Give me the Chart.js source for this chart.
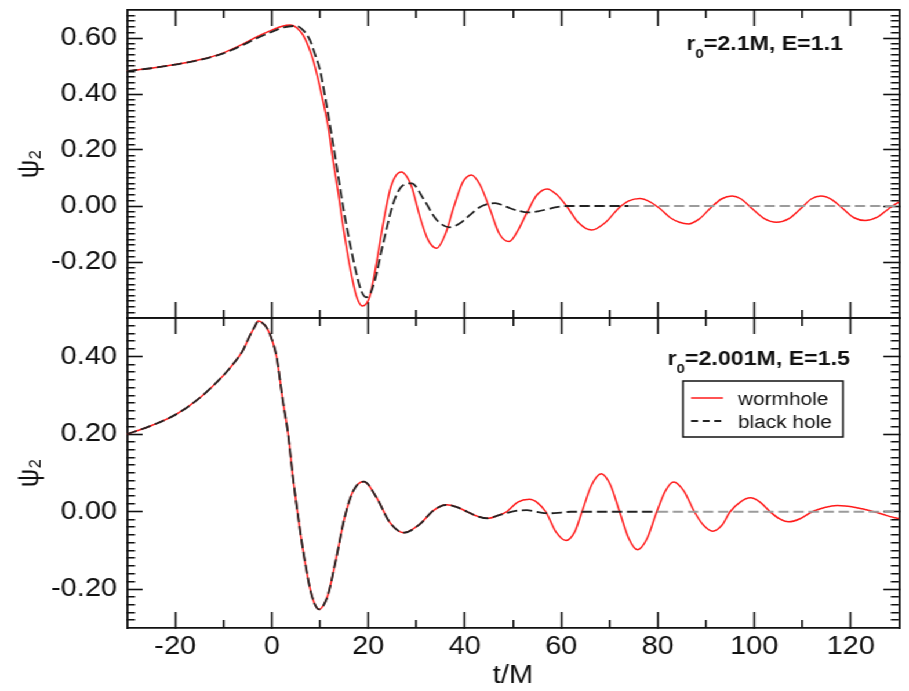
<!DOCTYPE html>
<html lang="en">
<head>
    <meta charset="UTF-8">
    <title>Psi_2 waveforms: wormhole vs black hole</title>
    <script src="https://cdnjs.cloudflare.com/ajax/libs/Chart.js/4.4.1/chart.umd.min.js"></script>
    <style>
        html, body {
            margin: 0;
            padding: 0;
            background: #fff;
            overflow: hidden;
        }
        /* the figure is drawn narrow and widened as a whole */
        #frame {
            position: relative;
            width: 784px;
            height: 691px;
            transform: scaleX(1.1594);
            transform-origin: 0 0;
        }
        #frame canvas {
            position: absolute;
            left: 0;
        }
        #topPanel { top: 0; }
        #bottomPanel { top: 300px; }
        #tickLayer {
            top: 0;
            z-index: 5;
            pointer-events: none;
        }
    </style>
</head>
<body>
    <div id="frame">
        <canvas id="topPanel" width="784" height="330"></canvas>
        <canvas id="bottomPanel" width="784" height="391"></canvas>
        <canvas id="tickLayer" width="784" height="691"></canvas>
    </div>

    <script>
        // ---- r0 = 2.1M, E = 1.1 ----
        const wormholeTopT = [-30, -25, -20, -15, -10, -6, -3, 0, 2, 3.9, 5.3, 6.5, 7.6, 8.6, 9.5, 10.3, 11.7, 12.7, 13.8, 14.8,
            16.2, 17.6, 18.8, 20.3, 21.7, 23.1, 24.5, 25.6, 26.9, 28.1, 29.0, 30.7, 32.4, 34.2, 36.0, 37.8, 39.6, 41.4, 43.2, 45.2,
            47.2, 49.2, 51.1, 53.0, 55.0, 57.1, 59.1, 61.1, 63.6, 66.3, 69.1, 71.9, 74.0, 76.3, 78.4, 80.5, 82.6, 84.5, 86.4, 88.7,
            90.9, 93.2, 95.4, 97.3, 99.6, 102.1, 104.6, 107.2, 109.6, 111.8, 113.8, 116.0, 118.4, 120.7, 123.0, 125.5, 128.0, 130];
        const wormholeTopPsi = [0.482, 0.492, 0.505, 0.522, 0.547, 0.578, 0.605, 0.628, 0.641, 0.646, 0.635, 0.61, 0.57, 0.52, 0.46, 0.40, 0.283, 0.164, 0.045, -0.074,
            -0.217, -0.324, -0.357, -0.324, -0.205, -0.062, 0.057, 0.105, 0.121, 0.102, 0.069, -0.038, -0.121, -0.151, -0.10, 0.0, 0.085, 0.111, 0.075, -0.01,
            -0.10, -0.127, -0.085, -0.02, 0.04, 0.061, 0.04, 0.0, -0.06, -0.086, -0.06, -0.008, 0.018, 0.027, 0.015, -0.01, -0.042, -0.058, -0.064, -0.045,
            -0.008, 0.025, 0.036, 0.025, -0.01, -0.045, -0.058, -0.045, -0.01, 0.025, 0.036, 0.024, -0.01, -0.042, -0.052, -0.04, -0.008, 0.015];

        const blackHoleTopT = [-30, -25, -20, -15, -10, -6, -3, 0, 2.5, 5.1, 6.5, 7.9, 9.0, 10.0, 11.3, 12.7, 13.8, 14.9, 16.2, 17.7,
            18.6, 19.6, 20.5, 21.4, 23.1, 25.2, 26.9, 29.0, 31.4, 34.2, 36.9, 39.0, 41.1, 43.0, 44.5, 46.3, 48.0, 49.4, 51.3, 53.2,
            55.2, 57.0, 59.0, 61.1, 74, 130];
        const blackHoleTopPsi = [0.482, 0.492, 0.505, 0.521, 0.545, 0.575, 0.60, 0.622, 0.638, 0.643, 0.628, 0.593, 0.54, 0.486, 0.367, 0.224, 0.105, -0.014, -0.133, -0.252,
            -0.305, -0.326, -0.31, -0.264, -0.133, 0.01, 0.069, 0.081, 0.027, -0.05, -0.076, -0.062, -0.032, -0.005, 0.006, 0.01, 0.002, -0.008, -0.018, -0.023,
            -0.019, -0.012, -0.004, 0, 0, 0];

        // ---- r0 = 2.001M, E = 1.5 ----
        const wormholeBottomT = [-30, -25, -20, -15, -10, -8, -6, -4.5, -3.5, -2.8, -2, -1, 0, 1, 2.3, 3.4, 4.4, 5.5, 6.5, 7.9,
            8.8, 9.8, 10.8, 11.7, 13.4, 15.1, 16.9, 19.1, 21.7, 24.5, 27.4, 30.7, 33.5, 36.2, 38.4, 40.5, 42.7, 44.9, 46.8, 48.7,
            51.0, 53.4, 55.1, 56.8, 58.9, 61.0, 62.8, 64.3, 66.3, 68.3, 70.2, 72.1, 74.0, 75.8, 77.8, 79.8, 81.6, 83.3, 85.4, 87.6,
            89.5, 91.4, 93.3, 95.0, 97.1, 99.2, 101.2, 103.3, 105.2, 107.1, 109.5, 112.0, 114.6, 117.2, 121.0, 124.8, 127.5, 130];
        const wormholeBottomPsi = [0.20, 0.222, 0.25, 0.293, 0.352, 0.381, 0.416, 0.455, 0.478, 0.492, 0.488, 0.474, 0.446, 0.40, 0.287, 0.20, 0.089, -0.015, -0.10, -0.196,
            -0.235, -0.252, -0.24, -0.213, -0.118, -0.015, 0.054, 0.078, 0.037, -0.028, -0.054, -0.032, 0.003, 0.018, 0.012, 0.0, -0.012, -0.017, -0.01, 0.0,
            0.025, 0.032, 0.023, 0.0, -0.052, -0.074, -0.052, 0.0, 0.069, 0.098, 0.069, 0.0, -0.069, -0.098, -0.069, 0.0, 0.054, 0.077, 0.054, 0.0,
            -0.035, -0.05, -0.035, 0.0, 0.025, 0.036, 0.025, 0.0, -0.018, -0.026, -0.018, 0.0, 0.011, 0.016, 0.011, 0.0, -0.01, -0.018];

        const blackHoleBottomT = [-30, -25, -20, -15, -10, -8, -6, -4.5, -3.5, -2.8, -2, -1, 0, 1, 2.3, 3.4, 4.4, 5.5, 6.5, 7.9,
            8.8, 9.8, 10.8, 11.7, 13.4, 15.1, 16.9, 19.1, 21.7, 24.5, 27.4, 30.7, 33.5, 36.2, 38.4, 40.5, 42.7, 44.9, 46.8, 49.0,
            51.0, 52.8, 54.8, 57.5, 60.0, 62.0, 80, 130];
        const blackHoleBottomPsi = [0.20, 0.222, 0.25, 0.293, 0.352, 0.381, 0.416, 0.455, 0.478, 0.492, 0.488, 0.474, 0.446, 0.40, 0.287, 0.20, 0.089, -0.015, -0.10, -0.196,
            -0.235, -0.252, -0.24, -0.213, -0.118, -0.015, 0.054, 0.078, 0.037, -0.028, -0.054, -0.032, 0.003, 0.018, 0.012, 0.0, -0.012, -0.017, -0.01, -0.002,
            0.003, 0.004, 0.0, -0.004, -0.002, 0, 0, 0];

        // labelled (major) tick values and minor tick steps
        const timeLabels = [-20, 0, 20, 40, 60, 80, 100, 120];
        const topPsiLabels = [-0.2, 0.0, 0.2, 0.4, 0.6];
        const bottomPsiLabels = [-0.2, 0.0, 0.2, 0.4];
        const TIME_MINOR = 10;
        const PSI_MINOR = 0.02;

        const INK = '#111';
        const FAMILY = '"Liberation Sans", Arial, Helvetica, sans-serif';
        const tickFont = { family: FAMILY, size: 25 };
        const BORDER_W = 1.8;
        const TICK_W = 1.6;

        // tick lengths (inward)
        const X_MAJOR = 16, X_MINOR = 8;
        const Y_MAJOR = 13.5, Y_MINOR = 7;

        const near = (a, b) => Math.abs(a - b) < 1e-6;

        function pts(ts, vs) {
            return ts.map((t, i) => ({ x: t, y: vs[i] }));
        }

        function fmtPsi(v) {
            return (Math.abs(v) < 1e-9 ? 0 : v).toFixed(2);
        }

        // unlabelled tick positions between the axis ends
        function minorValues(min, max, step, labels) {
            const out = [];
            const k0 = Math.round(min / step), k1 = Math.round(max / step);
            for (let k = k0 + 1; k < k1; k++) {
                const v = Math.round(k * step * 1000) / 1000;
                if (!labels.some(l => near(l, v))) out.push(v);
            }
            return out;
        }

        const grid = len => ({ drawOnChartArea: false, drawTicks: true, tickLength: -len, tickWidth: TICK_W, tickColor: INK });

        function panelScales(yMin, yMax, psiLabels, showTime) {
            const frame = { display: true, color: INK, width: BORDER_W };
            const timeTicks = s => { s.ticks = timeLabels.map(v => ({ value: v })); };
            const psiTicks = s => { s.ticks = psiLabels.map(v => ({ value: v })); };
            return {
                x: {
                    type: 'linear', position: 'bottom', min: -30, max: 130,
                    afterBuildTicks: timeTicks,
                    ticks: {
                        display: showTime, autoSkip: false, maxRotation: 0, padding: 20,
                        color: INK, font: tickFont,
                        callback: v => String(Math.round(v))
                    },
                    grid: grid(X_MAJOR),
                    border: frame,
                    title: {
                        display: showTime, text: 't/M', color: INK,
                        font: { family: FAMILY, size: 25 }, padding: { top: 0, bottom: 0 }
                    },
                    afterFit: s => { s.height = showTime ? 63 : 0; s.paddingLeft = 0; s.paddingRight = 0; }
                },
                y: {
                    type: 'linear', position: 'left', min: yMin, max: yMax,
                    afterBuildTicks: psiTicks,
                    ticks: {
                        autoSkip: false, padding: 22, color: INK, font: tickFont,
                        callback: v => fmtPsi(v)
                    },
                    grid: grid(Y_MAJOR),
                    border: frame,
                    title: {
                        display: true, text: 'ψ₂', color: INK,
                        font: { family: FAMILY, size: 26 }, padding: { top: 10, bottom: 0 }
                    },
                    afterFit: s => { s.width = 109.5; s.paddingTop = 0; s.paddingBottom = 0; }
                },
                x2: {
                    type: 'linear', position: 'top', min: -30, max: 130,
                    afterBuildTicks: timeTicks,
                    ticks: { display: false },
                    grid: grid(X_MAJOR),
                    border: frame,
                    afterFit: s => { s.height = 0; s.paddingLeft = 0; s.paddingRight = 0; }
                },
                y2: {
                    type: 'linear', position: 'right', min: yMin, max: yMax,
                    afterBuildTicks: psiTicks,
                    ticks: { display: false },
                    grid: grid(Y_MAJOR),
                    border: frame,
                    afterFit: s => { s.width = 8.6; s.paddingTop = 0; s.paddingBottom = 0; }
                }
            };
        }

        // run label (r_0, E) and the boxed legend inside the plot area
        const panelNotes = {
            id: 'panelNotes',
            afterDatasetsDraw(chart, args, opts) {
                const { ctx, chartArea } = chart;
                const mainFont = 'bold 20px ' + FAMILY;
                const subFont = 'bold 13px ' + FAMILY;
                ctx.save();
                ctx.fillStyle = INK;
                ctx.textBaseline = 'alphabetic';
                ctx.textAlign = 'left';

                ctx.font = mainFont;
                const wR = ctx.measureText('r').width;
                const wRest = ctx.measureText(opts.rest).width;
                ctx.font = subFont;
                const wSub = ctx.measureText('0').width;
                let x = chartArea.right - opts.right - (wR + wSub + wRest);
                const y = chartArea.top + opts.baseline;
                ctx.font = mainFont;
                ctx.fillText('r', x, y);
                x += wR;
                ctx.font = subFont;
                ctx.fillText('0', x, y + 8);
                x += wSub;
                ctx.font = mainFont;
                ctx.fillText(opts.rest, x, y);

                if (opts.legend) {
                    const bx = chartArea.right - 186.3;
                    const by = chartArea.top + 63;
                    ctx.lineWidth = 1.5;
                    ctx.strokeStyle = INK;
                    ctx.setLineDash([]);
                    ctx.strokeRect(bx, by, 138, 56);
                    ctx.font = '18px ' + FAMILY;
                    chart.data.datasets.forEach((ds, i) => {
                        const ly = by + 17 + i * 23;
                        ctx.beginPath();
                        ctx.strokeStyle = ds.borderColor;
                        ctx.lineWidth = ds.borderWidth;
                        ctx.setLineDash(ds.borderDash ? [6, 4] : []);
                        ctx.moveTo(bx + 7, ly);
                        ctx.lineTo(bx + 34.5, ly);
                        ctx.stroke();
                        ctx.setLineDash([]);
                        ctx.fillStyle = INK;
                        ctx.fillText(ds.label, bx + 47.4, ly + 7);
                    });
                }
                ctx.restore();
            }
        };

        function makePanel(canvasId, wT, wPsi, bT, bPsi, fadeFrom, yMin, yMax, psiLabels, showTime, notes, padding) {
            return new Chart(document.getElementById(canvasId), {
                type: 'line',
                data: {
                    datasets: [
                        {
                            label: 'wormhole',
                            data: pts(wT, wPsi),
                            borderColor: '#ff1a1a',
                            borderWidth: 1.5,
                            pointRadius: 0,
                            cubicInterpolationMode: 'monotone',
                            order: 1
                        },
                        {
                            label: 'black hole',
                            data: pts(bT, bPsi),
                            borderColor: '#222',
                            borderWidth: 1.8,
                            borderDash: [9, 4],
                            pointRadius: 0,
                            cubicInterpolationMode: 'monotone',
                            segment: {
                                borderColor: c => c.p0.parsed.x >= fadeFrom ? '#9b9b9b' : undefined
                            },
                            order: 0
                        }
                    ]
                },
                options: {
                    responsive: false,
                    animation: false,
                    devicePixelRatio: 1,
                    layout: { autoPadding: false, padding: padding },
                    scales: panelScales(yMin, yMax, psiLabels, showTime),
                    plugins: {
                        legend: { display: false },
                        tooltip: { enabled: false },
                        panelNotes: notes
                    }
                },
                plugins: [panelNotes]
            });
        }

        // short unlabelled ticks on all four sides of a panel, placed with the panel's scales,
        // on a layer above both chart canvases
        function drawMinorTicks(layer, chart, psiLabels) {
            const ctx = layer.getContext('2d');
            const top = chart.canvas.offsetTop;
            const a = chart.chartArea;
            const xs = chart.scales.x;
            const ys = chart.scales.y;
            const align = px => Math.round(px - TICK_W / 2) + TICK_W / 2;
            ctx.save();
            ctx.strokeStyle = INK;
            ctx.lineWidth = TICK_W;
            ctx.beginPath();
            minorValues(xs.min, xs.max, TIME_MINOR, timeLabels).forEach(t => {
                const px = align(xs.getPixelForValue(t));
                ctx.moveTo(px, top + a.top);
                ctx.lineTo(px, top + a.top + X_MINOR);
                ctx.moveTo(px, top + a.bottom);
                ctx.lineTo(px, top + a.bottom - X_MINOR);
            });
            minorValues(ys.min, ys.max, PSI_MINOR, psiLabels).forEach(v => {
                const py = top + align(ys.getPixelForValue(v));
                ctx.moveTo(a.left, py);
                ctx.lineTo(a.left + Y_MINOR, py);
                ctx.moveTo(a.right, py);
                ctx.lineTo(a.right - Y_MINOR, py);
            });
            ctx.stroke();
            ctx.restore();
        }

        const topChart = makePanel('topPanel', wormholeTopT, wormholeTopPsi, blackHoleTopT, blackHoleTopPsi, 74,
            -0.4, 0.7, topPsiLabels, false,
            { rest: '=2.1M, E=1.1', right: 48.3, baseline: 40, legend: false },
            { top: 10, bottom: 12, left: 0, right: 0 });

        const bottomChart = makePanel('bottomPanel', wormholeBottomT, wormholeBottomPsi, blackHoleBottomT, blackHoleBottomPsi, 80,
            -0.3, 0.5, bottomPsiLabels, true,
            { rest: '=2.001M, E=1.5', right: 42.3, baseline: 47, legend: true },
            { top: 18, bottom: 0, left: 0, right: 0 });

        const tickLayer = document.getElementById('tickLayer');
        drawMinorTicks(tickLayer, topChart, topPsiLabels);
        drawMinorTicks(tickLayer, bottomChart, bottomPsiLabels);
    </script>
</body>
</html>
